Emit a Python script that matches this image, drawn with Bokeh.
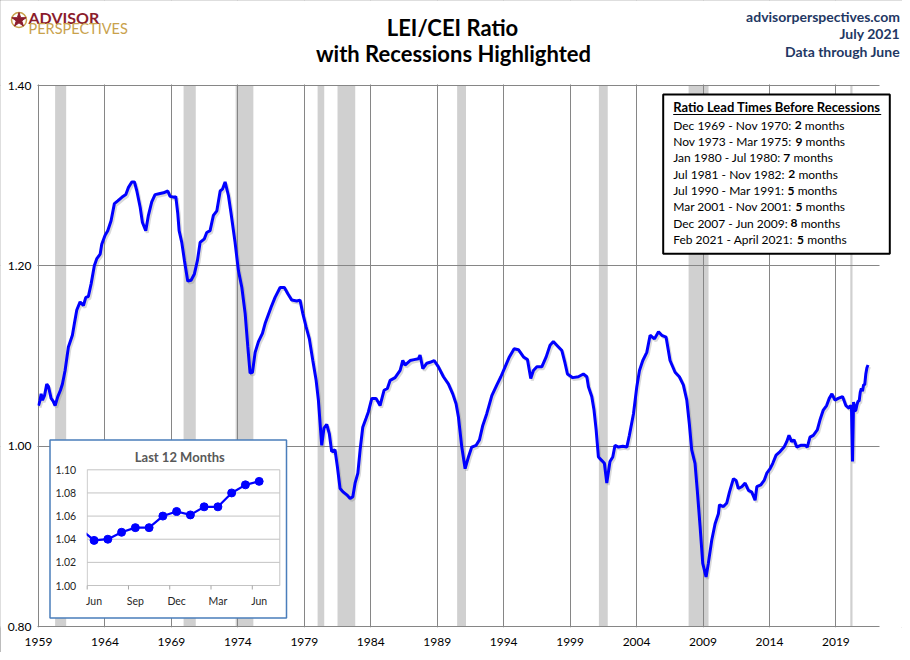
from bokeh.plotting import figure
from bokeh.models import Range1d, FixedTicker, Label, BoxAnnotation
from bokeh.core.properties import value
from bokeh.embed import file_html
from bokeh.resources import INLINE

FONT = "Lato"

# ---------------- data ----------------
ratio_dates = [
    1959.00, 1959.10, 1959.20, 1959.30, 1959.45, 1959.62, 1959.75, 1959.95, 1960.10, 1960.25, 1960.45, 1960.65, 1960.80,
    1961.00, 1961.25, 1961.55, 1961.70, 1961.88, 1962.13, 1962.38, 1962.56, 1962.75, 1962.96, 1963.20, 1963.39, 1963.64, 1963.76,
    1964.01, 1964.21, 1964.46, 1964.71, 1964.96, 1965.27, 1965.57, 1965.77, 1966.02, 1966.22, 1966.40, 1966.65, 1966.82,
    1967.07, 1967.27, 1967.52, 1967.77, 1968.07, 1968.40, 1968.73, 1968.90, 1969.22, 1969.33, 1969.48, 1969.58, 1969.78, 1969.98,
    1970.23, 1970.48, 1970.73, 1970.96, 1971.16, 1971.48, 1971.66, 1971.91, 1972.16, 1972.42, 1972.67, 1972.84, 1973.04, 1973.29, 1973.49, 1973.79,
    1974.04, 1974.30, 1974.55, 1974.75, 1974.92, 1975.10, 1975.30, 1975.55, 1975.85, 1976.05, 1976.50, 1976.80, 1977.18, 1977.50, 1977.76,
    1978.06, 1978.43, 1978.68, 1978.89, 1979.14, 1979.38, 1979.64, 1979.89, 1980.06, 1980.31, 1980.48, 1980.69, 1980.88,
    1981.06, 1981.31, 1981.49, 1981.69, 1981.94, 1982.20, 1982.45, 1982.65, 1982.82, 1983.03, 1983.20, 1983.40, 1983.65, 1983.82,
    1984.08, 1984.40, 1984.70, 1985.00, 1985.25, 1985.46, 1985.83, 1986.21, 1986.41, 1986.58, 1986.96, 1987.26, 1987.59, 1987.71, 1987.92,
    1988.22, 1988.46, 1988.77, 1989.09, 1989.47, 1989.84, 1990.17, 1990.42, 1990.60, 1990.85, 1991.10, 1991.35, 1991.60, 1991.93,
    1992.18, 1992.43, 1992.73, 1993.11, 1993.49, 1993.79, 1994.11, 1994.43, 1994.79, 1995.11, 1995.49, 1995.79, 1996.04, 1996.24, 1996.50, 1996.87,
    1997.20, 1997.49, 1997.74, 1998.00, 1998.38, 1998.62, 1998.80, 1999.20, 1999.62, 2000.00, 2000.26, 2000.38, 2000.63, 2000.80, 2000.96,
    2001.13, 2001.39, 2001.58, 2001.76, 2002.00, 2002.21, 2002.38, 2002.64, 2002.97, 2003.27, 2003.46, 2003.77,
    2004.02, 2004.22, 2004.47, 2004.77, 2005.02, 2005.35, 2005.65, 2005.90, 2006.22, 2006.52, 2006.90, 2007.22, 2007.52, 2007.78, 2007.97,
    2008.15, 2008.40, 2008.57, 2008.78, 2008.98, 2009.23, 2009.40, 2009.66, 2009.91, 2010.16, 2010.24, 2010.54, 2010.79, 2010.99,
    2011.29, 2011.49, 2011.66, 2011.92, 2012.17, 2012.42, 2012.67, 2012.92, 2013.05, 2013.35, 2013.60, 2013.80,
    2014.05, 2014.25, 2014.50, 2014.80, 2015.10, 2015.30, 2015.47, 2015.67, 2015.85, 2016.05, 2016.35, 2016.68, 2016.85,
    2017.05, 2017.30, 2017.60, 2017.80, 2018.05, 2018.30, 2018.50, 2018.70, 2018.93, 2019.17, 2019.50, 2019.75,
    2020.00, 2020.08, 2020.17, 2020.25, 2020.33,
]
ratio_values = [
    1.045, 1.050, 1.058, 1.051, 1.056, 1.069, 1.066, 1.053, 1.050, 1.045, 1.055, 1.062, 1.069,
    1.084, 1.110, 1.123, 1.136, 1.151, 1.160, 1.156, 1.165, 1.166, 1.180, 1.200, 1.208, 1.213, 1.224,
    1.234, 1.239, 1.250, 1.269, 1.272, 1.276, 1.279, 1.287, 1.293, 1.293, 1.283, 1.265, 1.248,
    1.239, 1.256, 1.271, 1.279, 1.280, 1.281, 1.283, 1.277, 1.276, 1.277, 1.258, 1.239, 1.226, 1.206,
    1.183, 1.184, 1.191, 1.206, 1.226, 1.230, 1.237, 1.239, 1.256, 1.261, 1.283, 1.285, 1.293, 1.278, 1.258, 1.226,
    1.195, 1.176, 1.147, 1.110, 1.081, 1.082, 1.104, 1.116, 1.125, 1.136, 1.154, 1.165, 1.176, 1.176, 1.169,
    1.162, 1.161, 1.162, 1.147, 1.132, 1.119, 1.095, 1.073, 1.051, 1.001, 1.020, 1.024, 1.014,
    0.994, 0.996, 0.977, 0.953, 0.949, 0.946, 0.942, 0.944, 0.959, 0.970, 0.996, 1.021, 1.031, 1.038,
    1.053, 1.053, 1.045, 1.062, 1.064, 1.073, 1.076, 1.084, 1.095, 1.090, 1.095, 1.096, 1.097, 1.101, 1.086,
    1.092, 1.093, 1.095, 1.088, 1.077, 1.069, 1.058, 1.047, 1.032, 0.999, 0.975, 0.988, 0.999, 1.001,
    1.007, 1.023, 1.036, 1.056, 1.068, 1.077, 1.088, 1.099, 1.108, 1.107, 1.099, 1.096, 1.075, 1.084, 1.088, 1.088,
    1.099, 1.112, 1.116, 1.112, 1.106, 1.092, 1.080, 1.076, 1.077, 1.080, 1.077, 1.066, 1.055, 1.040, 1.018,
    0.988, 0.984, 0.981, 0.959, 0.983, 0.988, 1.001, 0.999, 1.000, 0.999, 1.012, 1.036,
    1.066, 1.084, 1.095, 1.104, 1.123, 1.119, 1.127, 1.123, 1.121, 1.095, 1.082, 1.077, 1.068, 1.051, 1.025,
    0.996, 0.981, 0.951, 0.911, 0.870, 0.855, 0.870, 0.896, 0.914, 0.925, 0.935, 0.933, 0.937, 0.949,
    0.964, 0.962, 0.953, 0.955, 0.959, 0.951, 0.949, 0.940, 0.955, 0.957, 0.962, 0.970,
    0.975, 0.981, 0.990, 0.994, 0.999, 1.005, 1.012, 1.005, 1.007, 0.999, 1.001, 1.001, 0.999,
    1.010, 1.012, 1.018, 1.029, 1.040, 1.045, 1.053, 1.058, 1.051, 1.053, 1.055, 1.045,
    1.042, 1.045, 1.044, 0.983, 1.049,
]
assert len(ratio_dates) == len(ratio_values)

# last 12 months (Jun 2020 .. Jun 2021)
last12_months = ["Jun", "Jul", "Aug", "Sep", "Oct", "Nov", "Dec", "Jan", "Feb", "Mar", "Apr", "May", "Jun"]
last12_values = [1.039, 1.040, 1.046, 1.050, 1.050, 1.060, 1.064, 1.061, 1.068, 1.068, 1.080, 1.087, 1.090]
last12_start = 2020 + 5 / 12  # June 2020

# NBER recessions (decimal years)
recession_start = [1960.25, 1969.917, 1973.833, 1980.0, 1981.5, 1990.5, 2001.167, 2007.917, 2020.083]
recession_end = [1961.083, 1970.833, 1975.167, 1980.5, 1982.833, 1991.167, 2001.833, 2009.417, 2020.25]

# lead-time box
lead_periods = ["Dec 1969 - Nov 1970:", "Nov 1973 - Mar 1975:", "Jan 1980 - Jul 1980:", "Jul 1981 - Nov 1982:",
                "Jul 1990 - Mar 1991:", "Mar 2001 - Nov 2001:", "Dec 2007 - Jun 2009:", "Feb 2021 - April 2021:"]
lead_months = [2, 9, 7, 2, 5, 5, 8, 5]

year_ticks = [1959, 1964, 1969, 1974, 1979, 1984, 1989, 1994, 1999, 2004, 2009, 2014, 2019]
ratio_ticks = [0.80, 1.00, 1.20, 1.40]
last12_ticks = [1.00, 1.02, 1.04, 1.06, 1.08, 1.10]

# ---------------- geometry: picture pixels -> data ----------------
W, H = 902, 652
PX_PER_YEAR = 13.29
PLOT_L, PLOT_R, PLOT_T, PLOT_B = 38, 878, 85, 626


def X(px):
    return 1959.0 + (px - PLOT_L) / PX_PER_YEAR


def Y(py):
    return 1.40 - (py - PLOT_T) * 0.60 / (PLOT_B - PLOT_T)


GRID = "#868686"
p = figure(frame_width=W, frame_height=627, x_range=Range1d(X(0), X(W)), y_range=Range1d(Y(627), Y(0)),
           min_border_left=0, min_border_right=0, min_border_top=0, min_border_bottom=H - 627,
           output_backend="svg", toolbar_location=None)
p.styles = {"outline": "1px solid #a6a6a6", "outline-offset": "-1px"}
p.outline_line_color = None
p.background_fill_color = "white"
p.border_fill_color = "white"
p.yaxis.visible = False

p.xaxis.ticker = FixedTicker(ticks=year_ticks)
p.xaxis.axis_line_color = None
p.xaxis.major_tick_line_color = None
p.xaxis.minor_tick_line_color = None
p.xaxis.major_tick_out = 0
p.xaxis.major_label_standoff = 10
p.xaxis.major_label_text_font = FONT
p.xaxis.major_label_text_font_size = "12px"
p.xaxis.major_label_text_color = "#000000"
p.xgrid.ticker = FixedTicker(ticks=year_ticks)
p.ygrid.ticker = FixedTicker(ticks=ratio_ticks)
p.grid.grid_line_color = GRID
p.grid.grid_line_width = 1

# recession bands (behind the grid)
p.quad(left=recession_start, right=recession_end, bottom=ratio_ticks[0], top=ratio_ticks[-1],
       fill_color="#d0d0d0", line_color=None, level="image")

all_dates = ratio_dates + [last12_start + i / 12 for i in range(len(last12_values))]
all_values = ratio_values + last12_values

# soft shadow, then the series
dx = 1.5 / PX_PER_YEAR
dy = 2.0 * 0.60 / (PLOT_B - PLOT_T)
p.line([d + dx for d in all_dates], [v - dy for v in all_values], line_color="#808080",
       line_alpha=0.30, line_width=3)
p.line(all_dates, all_values, line_color="#0000ff", line_width=3)

# white margins outside the plotting area (hide grid overflow)
for kw in (dict(bottom=Y(84)), dict(right=X(37), top=Y(84)), dict(left=X(879), top=Y(84))):
    p.add_layout(BoxAnnotation(fill_color="white", fill_alpha=1.0, line_color=None, **kw))

# y tick labels
p.text(x=[year_ticks[0]] * len(ratio_ticks), y=ratio_ticks, text=[f"{t:.2f}" for t in ratio_ticks],
       x_offset=-7, text_align="right", text_baseline="middle", text_font=value(FONT),
       text_font_size="12px", text_color="#000000", level="overlay")


# ---------------- header ----------------
def label(px, py, text, size, color="#000000", bold=False, align="left"):
    p.add_layout(Label(x=X(px), y=Y(py), text=text, text_font=FONT, text_font_size=size,
                       text_color=color, text_font_style="bold" if bold else "normal",
                       text_align=align, text_baseline="middle"))


RED, GOLD, NAVY = "#8b1c2c", "#c9a24c", "#1f3864"
label(28, 16.5, "ADVISOR", "16px", RED, True)
label(28, 27.5, "PERSPECTIVES", "14.5px", GOLD)
p.scatter(x=[X(18.5)], y=[Y(19.5)], marker="circle", size=15, fill_color=None, line_color=GOLD,
          line_width=1.5, level="overlay")
p.scatter(x=[X(18.5)], y=[Y(19.5)], marker="star", size=15, fill_color=RED, line_color=RED, level="overlay")
label(452, 27, "LEI/CEI Ratio", "22px", bold=True, align="center")
label(453, 53, "with Recessions Highlighted", "22px", bold=True, align="center")
label(899.5, 15.5, "advisorperspectives.com", "14px", NAVY, True, "right")
label(899.5, 32.5, "July 2021", "14px", NAVY, True, "right")
label(899.5, 51, "Data through June", "14px", NAVY, True, "right")

# ---------------- lead-time box ----------------
p.add_layout(BoxAnnotation(left=X(662.7), right=X(889.3), top=Y(94), bottom=Y(253.3),
                           fill_color="white", fill_alpha=1.0, line_color="black", line_alpha=1.0,
                           line_width=2))
label(672.7, 106.5, "Ratio Lead Times Before Recessions", "13px", bold=True)
p.add_layout(BoxAnnotation(left=X(672.7), right=X(880.7), top=Y(113.4), bottom=Y(114.6),
                           fill_color="black", fill_alpha=1.0, line_color=None))

# approximate Lato advance widths (em) to chain the mixed-weight pieces of each line
LATO_W = {" ": 0.2, "-": 0.37, ":": 0.26, "D": 0.75, "e": 0.53, "c": 0.46, "N": 0.77, "o": 0.57,
          "v": 0.52, "J": 0.39, "a": 0.5, "n": 0.56, "u": 0.56, "l": 0.25, "M": 0.92, "r": 0.38,
          "F": 0.55, "b": 0.57, "A": 0.7, "p": 0.57, "i": 0.25}


def text_w(s, size):
    return sum(LATO_W.get(ch, 0.6) for ch in s) * size


BODY = 12
for i, (per, m) in enumerate(zip(lead_periods, lead_months)):
    yy = 124.7 + i * 16.33
    x_num = 672.7 + text_w(per, BODY) + 3.5
    x_mon = x_num + 0.6 * BODY + 3.0
    label(672.7, yy, per, f"{BODY}px")
    label(x_num, yy, str(m), f"{BODY}px", bold=True)
    label(x_mon, yy, "months", f"{BODY}px")

# ---------------- inset: last 12 months ----------------
IN_L, IN_R, IN_T, IN_B = 49.5, 286, 439.5, 617.5   # outer box
IF_L, IF_R, IF_T, IF_B = 86.7, 279.3, 469.3, 585   # inset plotting area
p.quad(left=[X(IN_L)], right=[X(IN_R)], top=[Y(IN_T)], bottom=[Y(IN_B)], fill_color="white",
       line_color="#4a7ebb", line_width=1.5, level="overlay")

n = len(last12_values)
sub = p.subplot(x_source=Range1d(-0.5, n + 0.5), y_source=Range1d(last12_ticks[0], last12_ticks[-1]),
                x_target=Range1d(X(IF_L), X(IF_R)), y_target=Range1d(Y(IF_B), Y(IF_T)))
IGRID = "#c3c3c3"
sub.segment(x0=[-0.5] * len(last12_ticks), x1=[n + 0.5] * len(last12_ticks), y0=last12_ticks, y1=last12_ticks,
            line_color=IGRID, line_width=1, level="overlay")
sub.segment(x0=[-0.5, n + 0.5], x1=[-0.5, n + 0.5], y0=[last12_ticks[0]] * 2, y1=[last12_ticks[-1]] * 2,
            line_color=IGRID, line_width=1, level="overlay")
label_ticks = list(range(0, n, 3))
sub.ray(x=[t - 0.5 for t in label_ticks], y=[last12_ticks[0]] * len(label_ticks), length=4,
        length_units="screen", angle=-1.5708, line_color="#a6a6a6", line_width=1, level="overlay")

idx = list(range(n))
sub.line([-1] + idx, [ratio_values[-1]] + last12_values, line_color="#0000ff", line_width=2.2, level="overlay")
sub.scatter(idx, last12_values, size=8, fill_color="#0000ff", line_color="#0000ff", level="overlay")
# keep the lead-in segment inside the inset's plotting area
p.quad(left=[X(IN_L + 1.5)], right=[X(IF_L - 0.6)], top=[Y(IF_T)], bottom=[Y(IF_B)], fill_color="white",
       line_color=None, level="overlay")

sub.text(x=[-0.5] * len(last12_ticks), y=last12_ticks, text=[f"{t:.2f}" for t in last12_ticks],
         x_offset=-11, text_align="right", text_baseline="middle", text_font=value(FONT),
         text_font_size="10.5px", text_color="#262626", level="overlay")
sub.text(x=label_ticks, y=[last12_ticks[0]] * len(label_ticks), text=[last12_months[t] for t in label_ticks],
         y_offset=15, text_align="center", text_baseline="middle", text_font=value(FONT),
         text_font_size="10.5px", text_color="#262626", level="overlay")
sub.text(x=[6.23], y=[last12_ticks[-1]], text=["Last 12 Months"], y_offset=-12.6, text_align="center",
         text_baseline="middle", text_font=value(FONT), text_font_size="13px", text_font_style="bold",
         text_color="#595959", level="overlay")

open("out.html", "w").write(file_html(p, INLINE))
